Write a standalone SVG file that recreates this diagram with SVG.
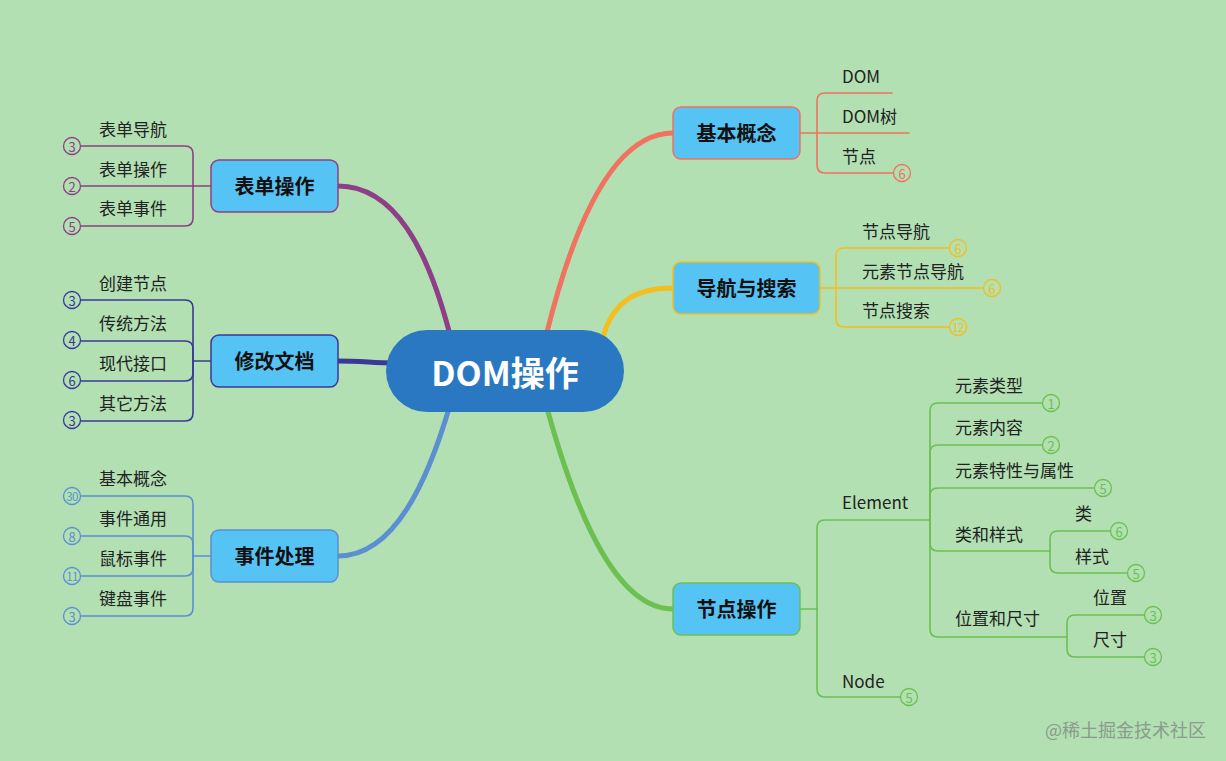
<svg xmlns="http://www.w3.org/2000/svg" width="1226" height="761" viewBox="0 0 1226 761">
<style>
text{font-family:"Noto Sans CJK SC","Noto Sans",sans-serif;}
.t{font-size:17px;fill:#222;dominant-baseline:central;}
.nt{font-size:20px;font-weight:bold;fill:#111;dominant-baseline:central;text-anchor:middle;}
.n{fill:#56c3f5;stroke-width:1.5;}
.c{fill:none;stroke-width:1.6;stroke-linecap:round;}
.b{fill:none;stroke-width:5;stroke-linecap:round;}
.ci{fill:#b2e0b2;stroke-width:1.3;}
.num{font-size:13px;dominant-baseline:central;text-anchor:middle;}
.num2{font-size:11.5px;dominant-baseline:central;text-anchor:middle;letter-spacing:-0.6px;}
</style>
<rect width="1226" height="761" fill="#b2e0b2"/>
<g id="connectors">
<path class="b" stroke="#8e3f88" d="M338,186 C395,186 428,250 450,335"/>
<path class="b" stroke="#3b3898" d="M338,361 C360,361 375,363 392,363"/>
<path class="b" stroke="#5b8fd2" d="M338,556 C395,556 428,480 450,405"/>
<path class="b" stroke="#f0725f" d="M673,133 C615,133 575,220 547,332"/>
<path class="b" stroke="#f4be1e" d="M673,288 C632,288 612,305 603,337"/>
<path class="b" stroke="#6cc050" d="M673,609 C615,609 575,510 547,408"/>
<g stroke="#8e3f88" class="c">
<path d="M211,186 H193"/><path d="M193,186 V154 Q193,146 185,146 H81"/><path d="M193,186 H81"/><path d="M193,186 V218 Q193,226 185,226 H81"/>
</g>
<g stroke="#3b3898" class="c">
<path d="M211,361 H193"/><path d="M193,361 V308 Q193,300 185,300 H81"/><path d="M193,361 V349 Q193,341 185,341 H81"/><path d="M193,361 V373 Q193,381 185,381 H81"/><path d="M193,361 V413 Q193,421 185,421 H81"/>
</g>
<g stroke="#5b8fd2" class="c">
<path d="M211,556 H193"/><path d="M193,556 V504 Q193,496 185,496 H81"/><path d="M193,556 V544 Q193,536 185,536 H81"/><path d="M193,556 V568 Q193,576 185,576 H81"/><path d="M193,556 V608 Q193,616 185,616 H81"/>
</g>
<g stroke="#f0725f" class="c">
<path d="M800,133 H817"/><path d="M817,133 V101 Q817,93 825,93 H892"/><path d="M817,133 H909"/><path d="M817,133 V165 Q817,173 825,173 H893"/>
</g>
<g stroke="#f4be1e" class="c">
<path d="M820,288 H836"/><path d="M836,288 V256 Q836,248 844,248 H949"/><path d="M836,288 H983"/><path d="M836,288 V319 Q836,327 844,327 H949"/>
</g>
<g stroke="#6cc050" class="c">
<path d="M800,609 H817"/><path d="M817,609 V528 Q817,520 825,520 H930"/><path d="M817,609 V689 Q817,697 825,697 H900"/>
<path d="M930,520 V411 Q930,403 938,403 H1042"/><path d="M930,520 V453 Q930,445 938,445 H1042"/><path d="M930,520 V496 Q930,488 938,488 H1094"/><path d="M930,520 V543 Q930,551 938,551 H1050"/><path d="M930,520 V629 Q930,637 938,637 H1067"/>
<path d="M1050,551 V539 Q1050,531 1058,531 H1110"/><path d="M1050,551 V565 Q1050,573 1058,573 H1127"/>
<path d="M1067,637 V623 Q1067,615 1075,615 H1144"/><path d="M1067,637 V649 Q1067,657 1075,657 H1144"/>
</g>
</g>
<g id="root">
<rect x="386" y="330" width="238" height="82" rx="41" fill="#2b78c2"/>
<text x="505" y="371" font-size="34" font-weight="bold" fill="#fff" text-anchor="middle" dominant-baseline="central">DOM操作</text>
</g>
<g id="n-form">
<rect class="n" x="211" y="160" width="127" height="52" rx="8" stroke="#8e3f88"/>
<text class="nt" x="274.5" y="185">表单操作</text>
<text class="t" x="99" y="128">表单导航</text><text class="t" x="99" y="168">表单操作</text><text class="t" x="99" y="207">表单事件</text>
<g stroke="#8e3f88"><circle class="ci" cx="72" cy="146" r="8.5"/><circle class="ci" cx="72" cy="186" r="8.5"/><circle class="ci" cx="72" cy="226" r="8.5"/></g>
<g fill="#8e3f88"><text class="num" x="72" y="146">3</text><text class="num" x="72" y="186">2</text><text class="num" x="72" y="226">5</text></g>
</g>
<g id="n-doc">
<rect class="n" x="211" y="335" width="127" height="52" rx="8" stroke="#3b3898"/>
<text class="nt" x="274.5" y="360">修改文档</text>
<text class="t" x="99" y="282">创建节点</text><text class="t" x="99" y="322">传统方法</text><text class="t" x="99" y="362">现代接口</text><text class="t" x="99" y="402">其它方法</text>
<g stroke="#3b3898"><circle class="ci" cx="72" cy="300" r="8.5"/><circle class="ci" cx="72" cy="340" r="8.5"/><circle class="ci" cx="72" cy="380" r="8.5"/><circle class="ci" cx="72" cy="420" r="8.5"/></g>
<g fill="#3b3898"><text class="num" x="72" y="300">3</text><text class="num" x="72" y="340">4</text><text class="num" x="72" y="380">6</text><text class="num" x="72" y="420">3</text></g>
</g>
<g id="n-event">
<rect class="n" x="211" y="530" width="127" height="52" rx="8" stroke="#5b8fd2"/>
<text class="nt" x="274.5" y="555">事件处理</text>
<text class="t" x="99" y="477">基本概念</text><text class="t" x="99" y="517">事件通用</text><text class="t" x="99" y="557">鼠标事件</text><text class="t" x="99" y="597">键盘事件</text>
<g stroke="#5b8fd2"><circle class="ci" cx="72" cy="496" r="8.5"/><circle class="ci" cx="72" cy="536" r="8.5"/><circle class="ci" cx="72" cy="576" r="8.5"/><circle class="ci" cx="72" cy="616" r="8.5"/></g>
<g fill="#5b8fd2"><text class="num2" x="72" y="496">30</text><text class="num" x="72" y="536">8</text><text class="num2" x="72" y="576">11</text><text class="num" x="72" y="616">3</text></g>
</g>
<g id="n-basic">
<rect class="n" x="673" y="107" width="127" height="52" rx="8" stroke="#f0725f"/>
<text class="nt" x="736.5" y="132">基本概念</text>
<text class="t" x="842" y="75">DOM</text><text class="t" x="842" y="115">DOM树</text><text class="t" x="842" y="155">节点</text>
<circle class="ci" cx="902" cy="173" r="8.5" stroke="#f0725f"/><text class="num" x="902" y="173" fill="#f0725f">6</text>
</g>
<g id="n-nav">
<rect class="n" x="673" y="262" width="147" height="52" rx="8" stroke="#f4be1e"/>
<text class="nt" x="746.5" y="287">导航与搜索</text>
<text class="t" x="862" y="230">节点导航</text><text class="t" x="862" y="270">元素节点导航</text><text class="t" x="862" y="309">节点搜索</text>
<g stroke="#f4be1e"><circle class="ci" cx="958" cy="248" r="8.5"/><circle class="ci" cx="992" cy="288" r="8.5"/><circle class="ci" cx="958" cy="327" r="8.5"/></g>
<g fill="#f4be1e"><text class="num" x="958" y="248">6</text><text class="num" x="992" y="288">6</text><text class="num2" x="958" y="327">12</text></g>
</g>
<g id="n-node">
<rect class="n" x="673" y="583" width="127" height="52" rx="8" stroke="#6cc050"/>
<text class="nt" x="736.5" y="608">节点操作</text>
<text class="t" x="842" y="501">Element</text><text class="t" x="842" y="680">Node</text>
<text class="t" x="955" y="384">元素类型</text><text class="t" x="955" y="426">元素内容</text><text class="t" x="955" y="469">元素特性与属性</text><text class="t" x="955" y="533">类和样式</text><text class="t" x="955" y="617">位置和尺寸</text>
<text class="t" x="1075" y="512">类</text><text class="t" x="1075" y="555">样式</text><text class="t" x="1093" y="596">位置</text><text class="t" x="1093" y="638">尺寸</text>
<g stroke="#6cc050"><circle class="ci" cx="909" cy="697" r="8.5"/><circle class="ci" cx="1051" cy="403" r="8.5"/><circle class="ci" cx="1051" cy="445" r="8.5"/><circle class="ci" cx="1103" cy="488" r="8.5"/><circle class="ci" cx="1119" cy="531" r="8.5"/><circle class="ci" cx="1136" cy="573" r="8.5"/><circle class="ci" cx="1153" cy="615" r="8.5"/><circle class="ci" cx="1153" cy="657" r="8.5"/></g>
<g fill="#6cc050"><text class="num" x="909" y="697">5</text><text class="num" x="1051" y="403">1</text><text class="num" x="1051" y="445">2</text><text class="num" x="1103" y="488">5</text><text class="num" x="1119" y="531">6</text><text class="num" x="1136" y="573">5</text><text class="num" x="1153" y="615">3</text><text class="num" x="1153" y="657">3</text></g>
</g>
<text x="1045" y="729" font-size="18" fill="#8a9c8b" dominant-baseline="central">@稀土掘金技术社区</text>
</svg>
